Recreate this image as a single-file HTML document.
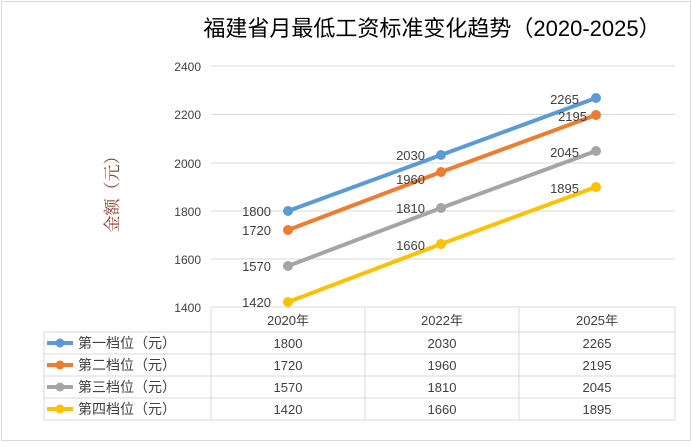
<!DOCTYPE html>
<html><head><meta charset="utf-8"><style>
body{margin:0;background:#fff}
svg text{font-family:"Liberation Sans","Noto Sans CJK SC",sans-serif}
</style></head><body>
<svg width="692" height="442" viewBox="0 0 692 442">
<rect x="1.5" y="1.5" width="689" height="439" fill="#fff" stroke="#d9d9d9"/>
<text x="432" y="36" font-size="22" text-anchor="middle" fill="#000">福建省月最低工资标准变化趋势（2020-2025）</text>
<text transform="translate(118,190) rotate(-90)" font-size="17" text-anchor="middle" fill="#8b3a2a" style="font-family:'Liberation Serif','Noto Serif CJK SC',serif">金额（元）</text>
<g stroke="#d9d9d9" stroke-width="1">
<line x1="211" y1="66" x2="675" y2="66"/><line x1="211" y1="114.5" x2="675" y2="114.5"/>
<line x1="211" y1="163" x2="675" y2="163"/><line x1="211" y1="211" x2="675" y2="211"/>
<line x1="211" y1="259" x2="675" y2="259"/>
<line x1="211" y1="307" x2="675" y2="307"/><line x1="44" y1="332" x2="675" y2="332"/>
<line x1="44" y1="354" x2="675" y2="354"/><line x1="44" y1="376" x2="675" y2="376"/>
<line x1="44" y1="398" x2="675" y2="398"/><line x1="44" y1="420" x2="675" y2="420"/>
<line x1="211" y1="307" x2="211" y2="420"/><line x1="365" y1="307" x2="365" y2="420"/>
<line x1="519" y1="307" x2="519" y2="420"/><line x1="675" y1="307" x2="675" y2="420"/>
<line x1="44" y1="332" x2="44" y2="420"/>
</g>
<g font-size="12" fill="#404040" text-anchor="end">
<text x="201" y="71">2400</text><text x="201" y="119">2200</text><text x="201" y="168">2000</text>
<text x="201" y="216">1800</text><text x="201" y="264">1600</text><text x="201" y="312">1400</text>
</g>
<g stroke-width="4" fill="none">
<polyline points="288,211 441,155 596,98" stroke="#5b9bd5"/>
<polyline points="288,230 441,172 596,115" stroke="#ed7d31"/>
<polyline points="288,266 441,208 596,151" stroke="#a5a5a5"/>
<polyline points="288,302 441,244 596,187" stroke="#ffc000"/>
</g>
<g>
<circle cx="288" cy="211" r="5" fill="#5b9bd5"/><circle cx="441" cy="155" r="5" fill="#5b9bd5"/><circle cx="596" cy="98" r="5" fill="#5b9bd5"/>
<circle cx="288" cy="230" r="5" fill="#ed7d31"/><circle cx="441" cy="172" r="5" fill="#ed7d31"/><circle cx="596" cy="115" r="5" fill="#ed7d31"/>
<circle cx="288" cy="266" r="5" fill="#a5a5a5"/><circle cx="441" cy="208" r="5" fill="#a5a5a5"/><circle cx="596" cy="151" r="5" fill="#a5a5a5"/>
<circle cx="288" cy="302" r="5" fill="#ffc000"/><circle cx="441" cy="244" r="5" fill="#ffc000"/><circle cx="596" cy="187" r="5" fill="#ffc000"/>
</g>
<g font-size="13" fill="#404040" text-anchor="end">
<text x="271" y="216">1800</text><text x="271" y="235">1720</text><text x="271" y="271">1570</text><text x="271" y="307">1420</text>
<text x="425" y="160">2030</text><text x="425" y="184">1960</text><text x="425" y="213">1810</text><text x="425" y="250">1660</text>
<text x="579" y="104">2265</text><text x="587" y="121">2195</text><text x="579" y="157">2045</text><text x="579" y="193">1895</text>
</g>
<g font-size="13" fill="#404040" text-anchor="middle">
<text x="288" y="325">2020年</text><text x="442" y="325">2022年</text><text x="597" y="325">2025年</text>
<text x="288" y="348">1800</text><text x="442" y="348">2030</text><text x="597" y="348">2265</text>
<text x="288" y="370">1720</text><text x="442" y="370">1960</text><text x="597" y="370">2195</text>
<text x="288" y="392">1570</text><text x="442" y="392">1810</text><text x="597" y="392">2045</text>
<text x="288" y="414">1420</text><text x="442" y="414">1660</text><text x="597" y="414">1895</text>
</g>
<g stroke-width="4">
<line x1="47" y1="343" x2="73" y2="343" stroke="#5b9bd5"/><circle cx="60" cy="343" r="4.5" fill="#5b9bd5"/>
<line x1="47" y1="365" x2="73" y2="365" stroke="#ed7d31"/><circle cx="60" cy="365" r="4.5" fill="#ed7d31"/>
<line x1="47" y1="387" x2="73" y2="387" stroke="#a5a5a5"/><circle cx="60" cy="387" r="4.5" fill="#a5a5a5"/>
<line x1="47" y1="409" x2="73" y2="409" stroke="#ffc000"/><circle cx="60" cy="409" r="4.5" fill="#ffc000"/>
</g>
<g font-size="14" fill="#404040">
<text x="78" y="348">第一档位（元）</text><text x="78" y="370">第二档位（元）</text>
<text x="78" y="392">第三档位（元）</text><text x="78" y="414">第四档位（元）</text>
</g>
</svg>
</body></html>
